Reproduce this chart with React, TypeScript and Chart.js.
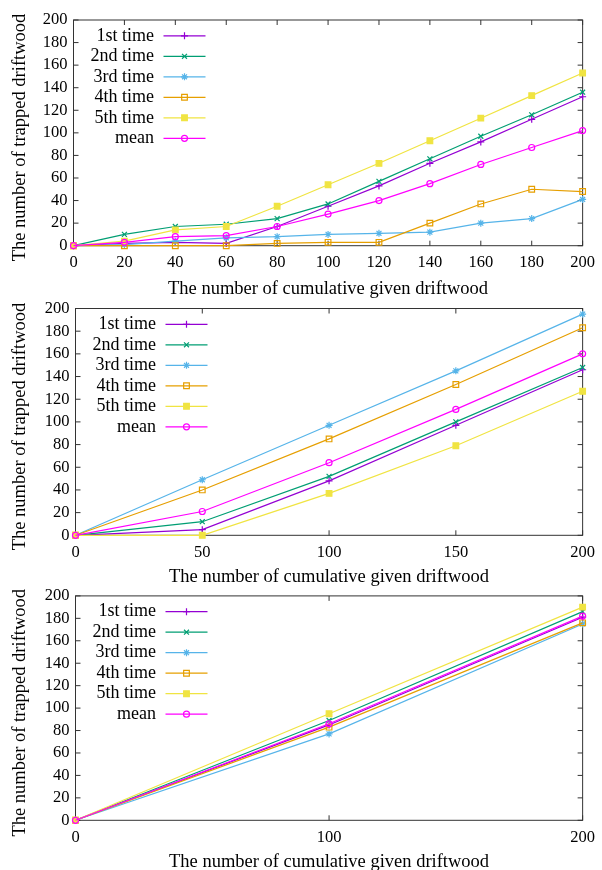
import React, { useEffect, useRef } from 'react';
import { Chart, registerables } from 'chart.js';
import { drawPoint } from 'chart.js/helpers';

Chart.register(...registerables);

// ---- series metadata ----
const seriesNames = ['1st time', '2nd time', '3rd time', '4th time', '5th time', 'mean'];
const seriesColors = ['#9400d3', '#009e73', '#56b4e9', '#e69f00', '#f0e442', '#ff00ff'];
const seriesPointStyles = ['cross', 'crossRot', 'star', 'rect', 'rect', 'circle'];
const seriesFilled = [false, false, false, false, true, false];
const seriesRadii = [3.5, 3.5, 3.5, 4, 4, 3];

const xAxisTitle = 'The number of cumulative given driftwood';
const yAxisTitle = 'The number of trapped driftwood';

// ---- panel 1 ----
const xValues1 = [0, 20, 40, 60, 80, 100, 120, 140, 160, 180, 200];
const first1 = [0, 2, 3, 2, 17, 35, 53, 73, 92, 112, 132];
const second1 = [0, 10, 17, 19, 24, 37, 57, 77, 97, 116, 136];
const third1 = [0, 1, 4, 7, 8, 10, 11, 12, 20, 24, 41];
const fourth1 = [0, 0, 0, 0, 2, 3, 3, 20, 37, 50, 48];
const fifth1 = [0, 4, 14, 17, 35, 54, 73, 93, 113, 133, 153];
const mean1 = [0, 3, 8, 9, 17, 28, 40, 55, 72, 87, 102];

// ---- panel 2 ----
const xValues2 = [0, 50, 100, 150, 200];
const first2 = [0, 5, 48, 97, 146];
const second2 = [0, 12, 52, 100, 148];
const third2 = [0, 49, 97, 145, 195];
const fourth2 = [0, 40, 85, 133, 183];
const fifth2 = [0, 0, 37, 79, 127];
const mean2 = [0, 21, 64, 111, 160];

// ---- panel 3 ----
const xValues3 = [0, 100, 200];
const first3 = [0, 85, 181];
const second3 = [0, 89, 186];
const third3 = [0, 77, 175];
const fourth3 = [0, 83, 176];
const fifth3 = [0, 95, 190];
const mean3 = [0, 86, 182];

const xSteps = [20, 50, 100];
const yTickStep = 20;

const FONT = '"Liberation Serif", "Times New Roman", Times, serif';

// layout (not data)
const panelLayouts = [
  { top: 0, height: 300, padTop: 20, plotH: 225.7, left: 73.5, right: 586.3 },
  { top: 290, height: 298, padTop: 18.5, plotH: 226.8, left: 75.5, right: 588.5 },
  { top: 580, height: 293, padTop: 14.8, plotH: 225.5, left: 75.5, right: 588.5 },
];

const framePlugin = {
  id: 'gnuFrame',
  beforeDatasetsDraw(chart: any) {
    const { ctx, chartArea: a, scales } = chart;
    ctx.save();
    ctx.strokeStyle = '#333333';
    ctx.lineWidth = 1;
    ctx.strokeRect(a.left, a.top, a.right - a.left, a.bottom - a.top);
    const len = 5;
    ctx.beginPath();
    scales.x.ticks.forEach((t: any) => {
      const px = scales.x.getPixelForValue(t.value);
      ctx.moveTo(px, a.bottom);
      ctx.lineTo(px, a.bottom - len);
      ctx.moveTo(px, a.top);
      ctx.lineTo(px, a.top + len);
    });
    scales.y.ticks.forEach((t: any) => {
      const py = scales.y.getPixelForValue(t.value);
      ctx.moveTo(a.left, py);
      ctx.lineTo(a.left + len, py);
      ctx.moveTo(a.right, py);
      ctx.lineTo(a.right - len, py);
    });
    ctx.stroke();
    ctx.restore();
  },
};

const legendPlugin = {
  id: 'gnuLegend',
  afterDatasetsDraw(chart: any) {
    const { ctx, chartArea: a } = chart;
    ctx.save();
    chart.data.datasets.forEach((ds: any, i: number) => {
      const y = a.top + 15.8 + i * 20.5;
      ctx.fillStyle = '#000000';
      ctx.font = `18px ${FONT}`;
      ctx.textAlign = 'right';
      ctx.textBaseline = 'middle';
      ctx.fillText(ds.label, a.left + 80.5, y);
      ctx.strokeStyle = ds.borderColor;
      ctx.lineWidth = ds.borderWidth;
      ctx.beginPath();
      ctx.moveTo(a.left + 90, y);
      ctx.lineTo(a.left + 132, y);
      ctx.stroke();
      ctx.fillStyle = ds.pointBackgroundColor;
      ctx.strokeStyle = ds.pointBorderColor;
      ctx.lineWidth = ds.pointBorderWidth;
      drawPoint(ctx, { pointStyle: ds.pointStyle, radius: ds.pointRadius, borderWidth: ds.pointBorderWidth, rotation: 0 } as any, a.left + 111, y);
    });
    ctx.restore();
  },
};

const panelSeries = [
  { xs: xValues1, ys: [first1, second1, third1, fourth1, fifth1, mean1] },
  { xs: xValues2, ys: [first2, second2, third2, fourth2, fifth2, mean2] },
  { xs: xValues3, ys: [first3, second3, third3, fourth3, fifth3, mean3] },
];

function Panel({ index }: { index: number }) {
  const ref = useRef<HTMLCanvasElement>(null);
  const lay = panelLayouts[index];
  useEffect(() => {
    const { xs, ys } = panelSeries[index];
    const xH = lay.height - lay.padTop - lay.plotH;
    const datasets = ys.map((vals, i) => ({
      label: seriesNames[i],
      data: xs.map((x, k) => ({ x, y: vals[k] })),
      borderColor: seriesColors[i],
      backgroundColor: seriesColors[i],
      pointBackgroundColor: seriesFilled[i] ? seriesColors[i] : 'rgba(0,0,0,0)',
      pointBorderColor: seriesColors[i],
      pointStyle: seriesPointStyles[i],
      pointRadius: seriesRadii[i],
      pointBorderWidth: 1.2,
      borderWidth: 1.2,
      tension: 0,
      fill: false,
      clip: false as any,
      order: 5 - i,
    }));
    const chart = new Chart(ref.current as HTMLCanvasElement, {
      type: 'line',
      data: { datasets },
      plugins: [framePlugin, legendPlugin],
      options: {
        animation: false,
        responsive: false,
        devicePixelRatio: 1,
        events: [],
        layout: { padding: { left: 0, top: lay.padTop, right: 602 - lay.right, bottom: 0 } },
        plugins: { legend: { display: false }, tooltip: { enabled: false } },
        scales: {
          x: {
            type: 'linear',
            min: 0,
            max: 200,
            afterFit: (s: any) => { s.height = xH; },
            grid: { display: false, drawTicks: false },
            border: { display: false },
            ticks: { stepSize: xSteps[index], autoSkip: false, color: '#000', padding: 7, maxRotation: 0, font: { family: FONT, size: 16.5 } },
            title: { display: true, text: xAxisTitle, color: '#000', padding: { top: 0, bottom: 0 }, font: { family: FONT, size: 18.5 } },
          },
          y: {
            type: 'linear',
            min: 0,
            max: 200,
            afterFit: (s: any) => { s.width = lay.left; },
            grid: { display: false, drawTicks: false },
            border: { display: false },
            ticks: { stepSize: yTickStep, autoSkip: false, color: '#000', padding: 6, font: { family: FONT, size: 16.5 } },
            title: { display: true, text: yAxisTitle + '  ', color: '#000', padding: { top: 9, bottom: 0 }, font: { family: FONT, size: 18.5 } },
          },
        },
      } as any,
    });
    return () => chart.destroy();
  }, []);
  return (
    <canvas
      ref={ref}
      width={602}
      height={lay.height}
      style={{ position: 'absolute', left: 0, top: lay.top, width: 602, height: lay.height }}
    />
  );
}

export default function App() {
  return (
    <div style={{ position: 'absolute', left: 0, top: 0, width: 602, height: 870, overflow: 'hidden', background: '#ffffff' }}>
      <Panel index={0} />
      <Panel index={1} />
      <Panel index={2} />
    </div>
  );
}
